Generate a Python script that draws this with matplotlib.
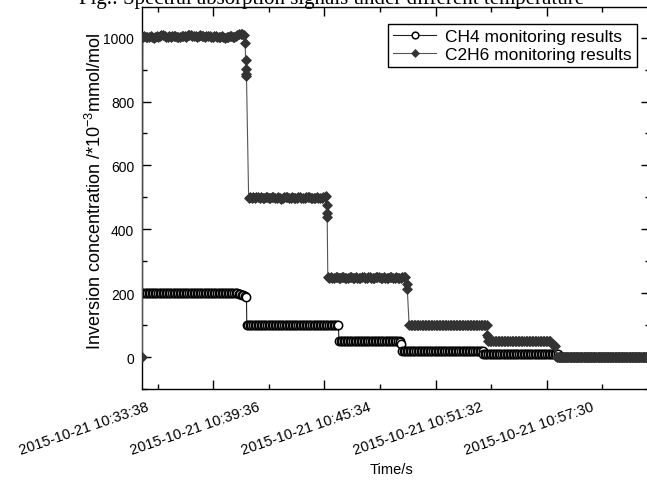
import numpy as np
import matplotlib
matplotlib.use("Agg")
import matplotlib.pyplot as plt
from matplotlib.ticker import MultipleLocator, NullFormatter
from matplotlib.transforms import blended_transform_factory, ScaledTranslation

plt.rcParams["font.family"] = ["Liberation Sans", "DejaVu Sans"]
plt.rcParams["mathtext.fontset"] = "custom"
plt.rcParams["mathtext.rm"] = "Liberation Sans"
plt.rcParams["mathtext.it"] = "Liberation Sans:italic"

TITLE = "Fig.: Spectral absorption signals under different temperature"

# x axis: seconds after 2015-10-21 10:33:38
TICK_SECONDS = [0, 358, 716, 1074, 1432]
TICK_LABELS = ["2015-10-21 10:33:38", "2015-10-21 10:39:36", "2015-10-21 10:45:34",
               "2015-10-21 10:51:32", "2015-10-21 10:57:30"]
STEP = 5  # sampling interval, s

# CH4: plateaus (start time, level, number of samples) + points caught in transitions
CH4_START = [130, 466, 763, 966, 1228, 1469]
CH4_LEVEL = [200, 100, 50, 20, 10, 0]
CH4_COUNT = [61, 60, 40, 53, 48, 60]
CH4_EDGE_T = [435, 440, 445, 450, 455, 460, 465, 961, 964, 1467]
CH4_EDGE_V = [199, 198, 196, 195, 193, 190, 187, 46, 42, 9]

# C2H6: plateau readings
C2H6_START = [131, 472, 727, 989, 1244, 1466]
C2H6_P1 = [1002, 1004, 1003, 1001, 1003, 1005, 1002, 1000, 1003, 1004,
           1002, 1006, 1008, 1007, 1004, 1003, 1002, 1004, 1003, 1005,
           1006, 1004, 1002, 1001, 1003, 1004, 1006, 1005, 1003, 1007,
           1009, 1008, 1006, 1004, 1005, 1003, 1006, 1007, 1005, 1004,
           1003, 1005, 1006, 1004, 1002, 1003, 1005, 1004, 1002, 1001,
           1003, 1004, 1002, 1000, 1002, 1003, 1005, 1004, 1001, 1003,
           1006, 1009, 1011, 1012, 1010, 1008]
C2H6_P2 = [498, 500, 497, 501, 499, 502, 500, 498, 501, 499,
           497, 500, 502, 499, 498, 500, 501, 497, 499, 500,
           498, 496, 498, 500, 501, 502, 499, 498, 500, 499,
           497, 499, 501, 500, 498, 497, 499, 500, 502, 501,
           499, 498, 497, 499, 500, 498, 497, 499, 501, 502,
           503]
C2H6_P3 = [250, 248, 251, 249, 247, 250, 252, 249, 248, 250,
           251, 249, 247, 248, 250, 252, 249, 248, 250, 249,
           247, 249, 251, 250, 248, 249, 251, 250, 248, 247,
           249, 250, 252, 251, 249, 248, 250, 249, 247, 248,
           250, 251, 249, 248, 250, 249, 247, 249, 251, 252,
           250]
C2H6_P4 = [99] * 51
C2H6_P5 = [50] * 41
C2H6_P6 = [0] * 61
C2H6_EDGE_T = [130, 461, 462, 463, 464, 465, 723, 724, 725, 981, 983, 1241, 1242, 1450, 1455, 1460]
C2H6_EDGE_V = [0, 982, 930, 902, 886, 880, 476, 452, 438, 230, 213, 70, 62, 42, 38, 35]


def build(starts, plateaus, edge_t, edge_v):
    t = list(edge_t)
    v = list(edge_v)
    for s, vals in zip(starts, plateaus):
        t += [s + STEP * i for i in range(len(vals))]
        v += list(vals)
    order = np.argsort(t, kind="stable")
    return np.array(t)[order], np.array(v)[order]


ch4_t, ch4_v = build(CH4_START, [[lv] * n for lv, n in zip(CH4_LEVEL, CH4_COUNT)],
                     CH4_EDGE_T, CH4_EDGE_V)
c2h6_t, c2h6_v = build(C2H6_START, [C2H6_P1, C2H6_P2, C2H6_P3, C2H6_P4, C2H6_P5, C2H6_P6],
                       C2H6_EDGE_T, C2H6_EDGE_V)

fig = plt.figure(figsize=(6.47, 4.81), dpi=100)
ax = fig.add_axes([0.2202, 0.1892, 0.785, 0.7935])

ax.plot(ch4_t, ch4_v, color="#222222", lw=0.8, marker="o", ms=6, mfc="white",
        mec="black", mew=1.1, label="CH4 monitoring results", zorder=3)
ax.plot(c2h6_t, c2h6_v, color="#555555", lw=0.8, marker="D", ms=5, mfc="#333333",
        mec="#333333", mew=0.5, label="C2H6 monitoring results", zorder=4)

ax.set_xlim(130, 1766)
ax.set_ylim(-100, 1095)

ax.xaxis.set_major_locator(MultipleLocator(358))
ax.xaxis.set_minor_locator(MultipleLocator(179))
ax.xaxis.set_major_formatter(NullFormatter())
ax.yaxis.set_major_locator(MultipleLocator(200))
ax.yaxis.set_minor_locator(MultipleLocator(100))
ax.tick_params(which="both", direction="in", top=True, right=True, width=1)
ax.tick_params(which="major", length=6.5)
ax.tick_params(which="minor", length=3.5)
ax.tick_params(axis="y", labelsize=10, pad=6)
for sp in ax.spines.values():
    sp.set_linewidth(1.0)

# rotated date labels, shifted right of their ticks as in the original export
trans = blended_transform_factory(ax.transData, ax.transAxes) + \
    ScaledTranslation(0.44, -0.10, fig.dpi_scale_trans)
for ts, lab in zip(TICK_SECONDS, TICK_LABELS):
    ax.text(ts, 0, lab, transform=trans, rotation=19, rotation_mode="anchor",
            ha="right", va="top", fontsize=10.5, clip_on=False)

ax.set_xlabel("Time/s", fontsize=10.5)
ax.xaxis.set_label_coords(0.491, -0.19)
ax.set_ylabel("Inversion concentration /*10$^{-3}$mmol/mol", fontsize=13)
ax.yaxis.set_label_coords(-0.074, 0.52)

leg = ax.legend(loc="upper right", bbox_to_anchor=(0.9736, 0.956), fancybox=False,
                edgecolor="black", framealpha=1, fontsize=12.5, handlelength=2.5,
                handletextpad=0.5, borderpad=0.3, labelspacing=0.15,
                borderaxespad=0, markerscale=0.8)
leg.get_frame().set_linewidth(1.0)

fig.text(332 / 647, 1 - 4 / 481, TITLE, ha="center", va="baseline",
         family="Liberation Serif", fontsize=15)

fig.savefig("out.png", dpi=100)
